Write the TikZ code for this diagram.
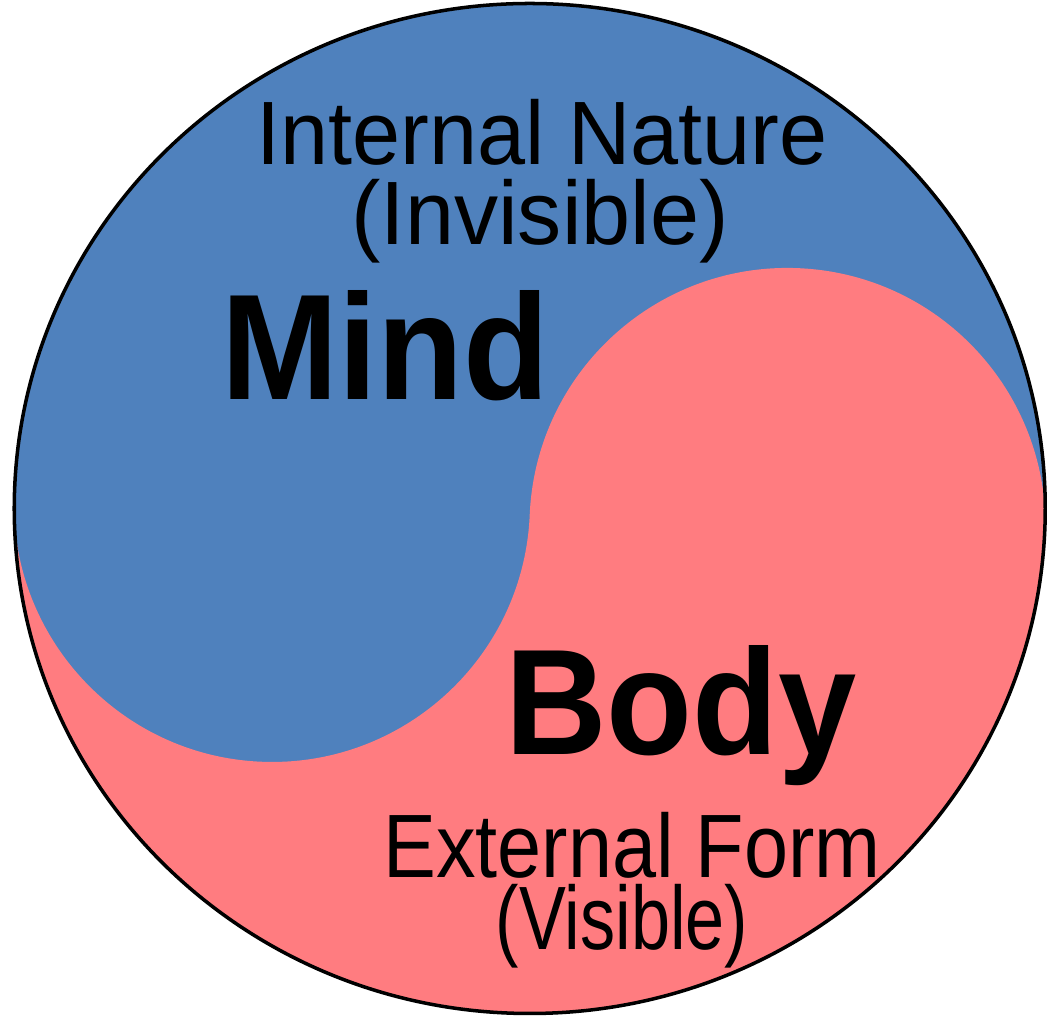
\documentclass[tikz,border=0pt]{standalone}
\usepackage{fontspec}
\setmainfont{Liberation Sans}
\definecolor{mindblue}{HTML}{4F81BD}
\definecolor{bodypink}{HTML}{FF7C80}
\tikzset{
    small label/.style={font=\fontsize{64}{74}\selectfont, anchor=base, inner sep=0pt},
    big label/.style={font=\bfseries\fontsize{100}{110}\selectfont, anchor=base, yscale=1.07, inner sep=0pt},
}
\begin{document}
\begin{tikzpicture}[x=0.025cm,y=0.025cm]
    \useasboundingbox (0,0) rectangle (1047,1017);
    
    % the two halves
    \begin{scope}
    \clip (529.75,508.5) ellipse [x radius=515.5, y radius=505];
    \fill[mindblue] (0,0) rectangle (1047,1017);
    \fill[bodypink] (-10,524) -- (14.2,524)
        arc[start angle=177.56, end angle=357.56, radius=258]
        arc[start angle=177.56, end angle=-2.44, radius=258]
        -- (1060,480) -- (1060,-10) -- (-10,-10) -- cycle;
    \end{scope}
    \draw[line width=2.5pt] (529.75,508.5) ellipse [x radius=515.5, y radius=505];
    
    % texts
    \node[small label, xscale=0.96] (internal) at (542,852) {Internal Nature};
    \node[small label, xscale=0.98] (invisible) at (540,772) {(Invisible)};
    \node[big label] (mind) at (385,617) {Mind};
    \node[big label] (body) at (681,262) {Body};
    \node[small label, xscale=0.88] (external) at (632,139) {External Form};
    \node[small label, xscale=0.78] (visible) at (622,67) {(Visible)};
\end{tikzpicture}
\end{document}
